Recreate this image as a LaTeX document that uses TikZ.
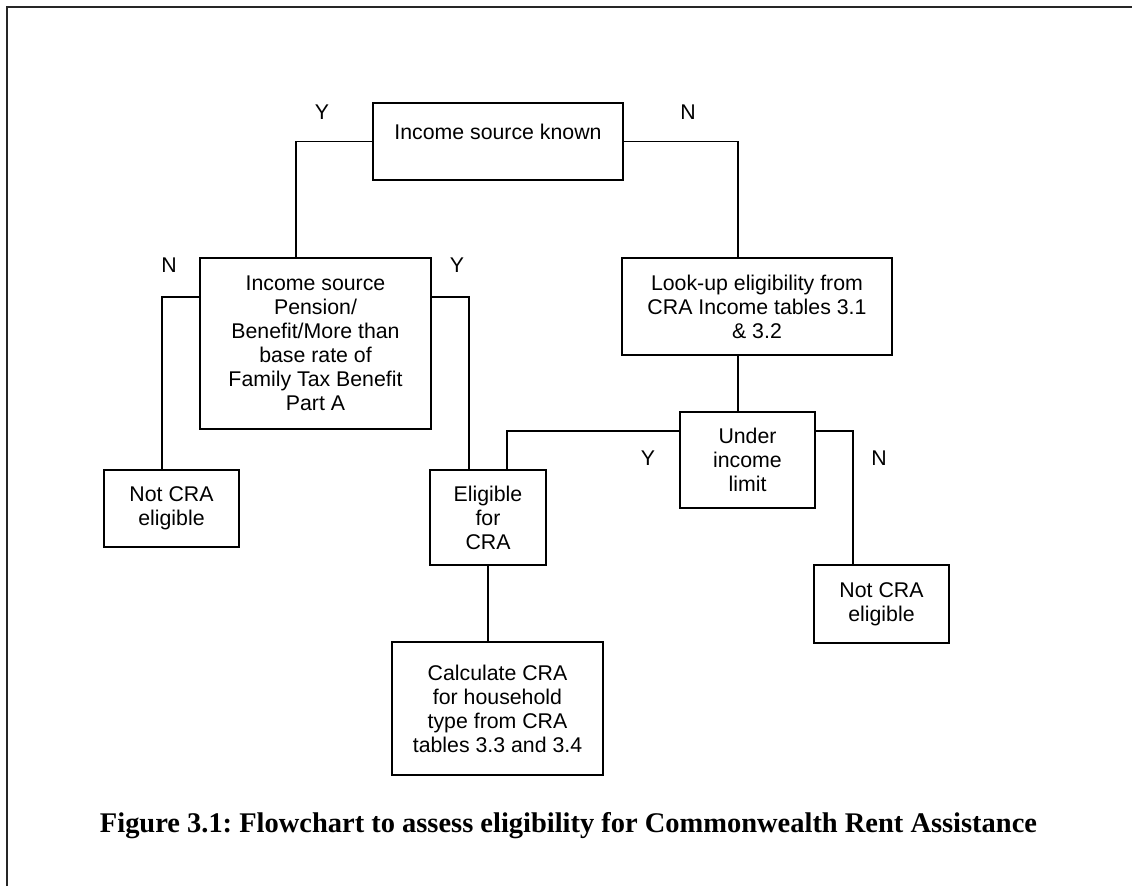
\documentclass[tikz,border=0pt]{standalone}
\usepackage{fontspec}
\usepackage{graphicx}
\setmainfont{Liberation Serif}
\setsansfont{Liberation Sans}
\begin{document}
\begin{tikzpicture}[x=1pt,y=-1pt,
  box/.style={draw, line width=1.6pt, inner sep=0pt, align=center,
    font=\sffamily\fontsize{21.3}{24}\selectfont},
  conn/.style={line width=1.6pt},
  yn/.style={font=\sffamily\fontsize{21.3}{24}\selectfont, inner sep=0pt},
  frame/.style={line width=1.4pt, draw=black!85}]
\useasboundingbox (0,0) rectangle (1132,886);
\draw[frame] (7,886) -- (7,7) -- (1132,7);

\node[box, minimum width=250pt, minimum height=77pt, text height=15pt, text depth=20pt] (known) at (498,141.5) {Income source known};
\node[box, minimum width=231pt, minimum height=171pt] (pension) at (315.5,343.5) {Income source\\Pension/\\Benefit/More than\\base rate of\\Family Tax Benefit\\Part A};
\node[box, minimum width=270pt, minimum height=97pt] (lookup) at (757,306.5) {Look-up eligibility from\\CRA Income tables 3.1\\\&\ 3.2};
\node[box, minimum width=135pt, minimum height=96pt] (under) at (747.5,460) {Under\\income\\limit};
\node[box, minimum width=135pt, minimum height=77pt] (notL) at (171.5,508.5) {Not CRA\\eligible};
\node[box, minimum width=116pt, minimum height=95pt] (elig) at (488,517.5) {Eligible\\for\\CRA};
\node[box, minimum width=135pt, minimum height=78pt] (notR) at (881.5,604) {Not CRA\\eligible};
\node[box, minimum width=211pt, minimum height=133pt] (calc) at (497.5,708.5) {Calculate CRA\\for household\\type from CRA\\tables 3.3 and 3.4};

\draw[conn] (known.west) -| ([xshift=-19.5pt]pension.north);
\draw[conn] (known.east) -| ([xshift=-19pt]lookup.north);
\draw[conn] ([yshift=46.5pt]pension.west) -| ([xshift=-9.5pt]notL.north);
\draw[conn] ([yshift=46.5pt]pension.east) -| ([xshift=-19pt]elig.north);
\draw[conn] ([xshift=-19pt]lookup.south) -- ([xshift=-9.5pt]under.north);
\draw[conn] ([yshift=29pt]under.west) -| ([xshift=19pt]elig.north);
\draw[conn] ([yshift=29pt]under.east) -| ([xshift=-28.5pt]notR.north);
\draw[conn] (elig.south) -- (elig.south |- calc.north);

\node[yn] (y1) at (322,112) {Y};
\node[yn] (n1) at (688,112) {N};
\node[yn] (n2) at (169,265) {N};
\node[yn] (y2) at (457,265) {Y};
\node[yn] (y3) at (648,458) {Y};
\node[yn] (n3) at (879,458) {N};

\node[anchor=base, inner sep=0pt] (cap) at (568.5,832) {\resizebox{937pt}{!}{\frenchspacing\bfseries Figure 3.1: Flowchart to assess eligibility for Commonwealth Rent Assistance}};
\end{tikzpicture}
\end{document}
